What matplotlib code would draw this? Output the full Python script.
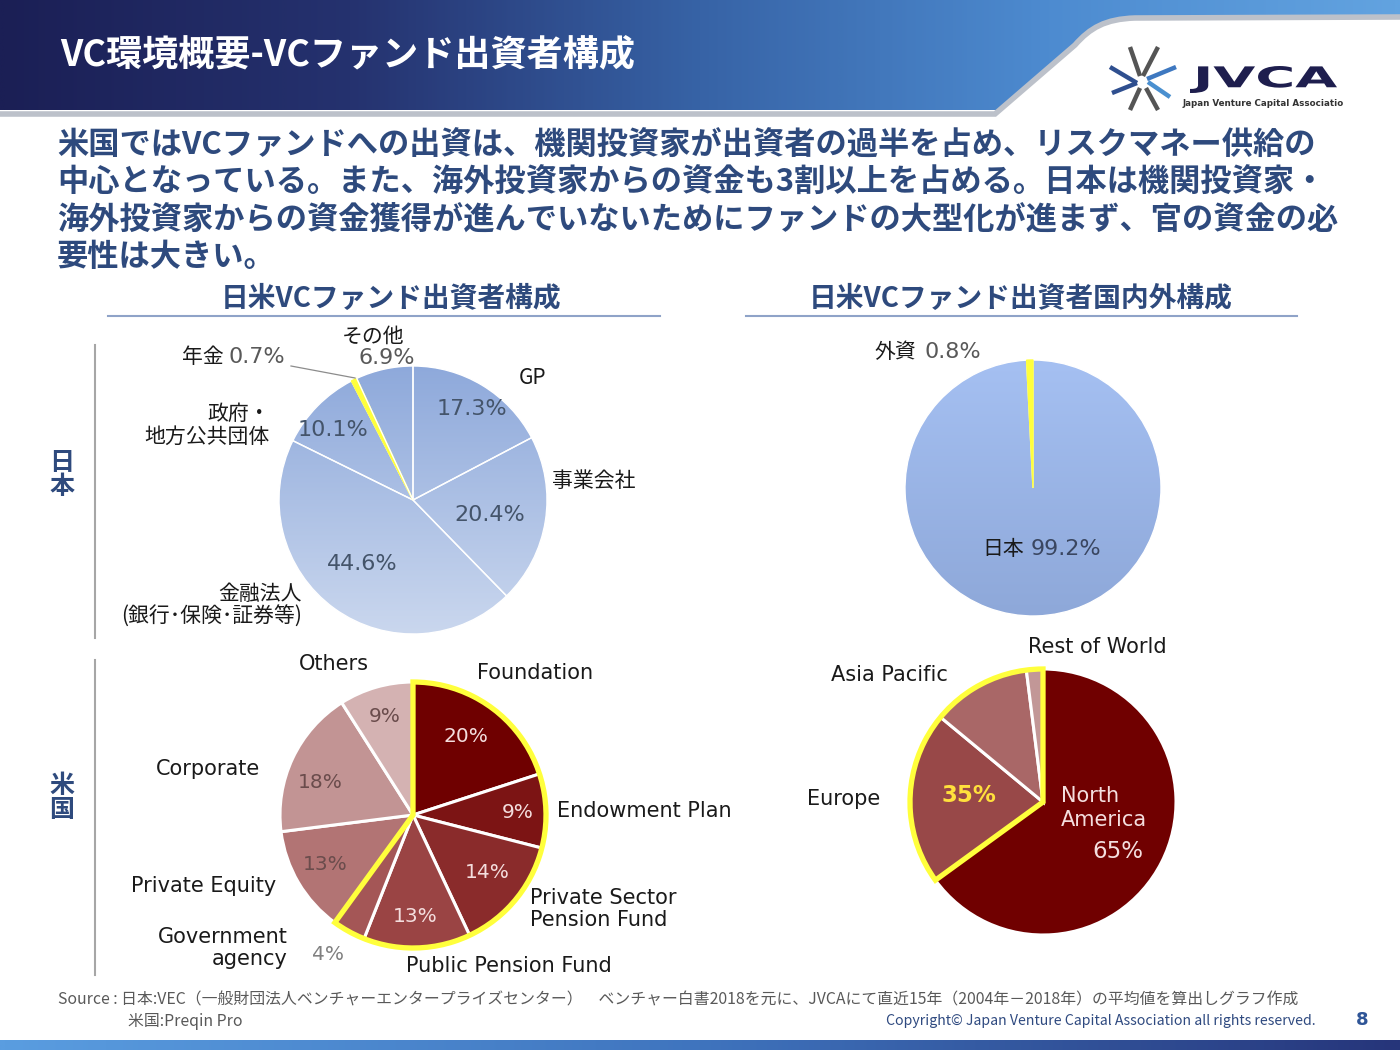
import numpy as np
import matplotlib
matplotlib.use('Agg')
import matplotlib.pyplot as plt
import matplotlib.colors as mcolors
from matplotlib.patches import Circle, Wedge, PathPatch
from matplotlib.path import Path
from matplotlib.textpath import TextPath
from matplotlib.font_manager import FontProperties
from matplotlib.transforms import Affine2D

JP = ['Noto Sans CJK JP', 'DejaVu Sans']
plt.rcParams['font.family'] = JP

W, H = 1400, 1050

### data ###
title = 'VC環境概要-VCファンド出資者構成'
body = ['米国ではVCファンドへの出資は、機関投資家が出資者の過半を占め、リスクマネー供給の',
        '中心となっている。また、海外投資家からの資金も3割以上を占める。日本は機関投資家・',
        '海外投資家からの資金獲得が進んでいないためにファンドの大型化が進まず、官の資金の必',
        '要性は大きい。']
head_left = '日米VCファンド出資者構成'
head_right = '日米VCファンド出資者国内外構成'

jp_names = ['GP', '事業会社', '金融法人\n(銀行･保険･証券等)', '政府・\n地方公共団体', '年金', 'その他']
jp_vals = [17.3, 20.4, 44.6, 10.1, 0.7, 6.9]

jpio_names = ['日本', '外資']
jpio_vals = [99.2, 0.8]

us_names = ['Foundation', 'Endowment Plan', 'Private Sector\nPension Fund', 'Public Pension Fund',
            'Government\nagency', 'Private Equity', 'Corporate', 'Others']
us_vals = [20, 9, 14, 13, 4, 13, 18, 9]
us_inst = 5   # first 5 = institutional investors (yellow outline)

usio_names = ['North\nAmerica', 'Europe', 'Asia Pacific', 'Rest of World']
usio_vals = [65, 21, 12, 2]

source1 = 'Source : 日本:VEC（一般財団法人ベンチャーエンタープライズセンター）　ベンチャー白書2018を元に、JVCAにて直近15年（2004年－2018年）の平均値を算出しグラフ作成'
source2 = '米国:Preqin Pro'
copyright_txt = 'Copyright© Japan Venture Capital Association all rights reserved.'
page = '8'

### styles ###
navy = '#2E4A7D'
yellow = '#FFFF3C'
jp_pct_col = '#44546A'
us_cols = ['#6F0000', '#7C1414', '#8A2B2B', '#9A4444', '#A45656', '#B27474', '#C29494', '#D4B2B2']
usio_cols = ['#700000', '#984848', '#A96767', '#C29797']
us_pct_cols = ['#F4DEDE'] * 5 + ['#6A4C4C', '#6A4C4C', '#6A4C4C']
us_pct_cols[4] = '#808080'

def Y(py):
    return H - py

fig = plt.figure(figsize=(14, 10.5), dpi=100)
ax = fig.add_axes([0, 0, 1, 1])

def hgrad(stops, n=400):
    pos = np.linspace(0, 1, n)
    cols = mcolors.LinearSegmentedColormap.from_list('g', stops)(pos)[:, :3]
    return cols[None, :, :]

def vgrad(top, bottom, n=256):
    t = np.linspace(0, 1, n)[:, None]
    c0 = np.array(mcolors.to_rgb(top)); c1 = np.array(mcolors.to_rgb(bottom))
    return (c0 * (1 - t) + c1 * t)[:, None, :]

### (1) header band ###
ax.imshow(hgrad(['#1B1F55', '#25326F', '#3763A6', '#4D8BD0', '#62A3E0']),
          extent=(0, W, Y(110), Y(0)), aspect='auto', zorder=0, interpolation='bilinear')
verts = [(995, 113), (1075, 45), (1090, 28), (1105, 19), (1135, 18), (1400, 17), (1400, 113), (995, 113)]
codes = [Path.MOVETO, Path.LINETO, Path.CURVE4, Path.CURVE4, Path.CURVE4, Path.LINETO, Path.LINETO, Path.CLOSEPOLY]
wp = Path([(x, Y(y)) for x, y in verts], codes)
ax.add_patch(PathPatch(wp, fc='white', ec='none', zorder=1))
sh = Path([(x, Y(y)) for x, y in [(0, 114), (995, 114), (1075, 45), (1090, 28), (1105, 19), (1135, 18), (1400, 17)]],
          [Path.MOVETO, Path.LINETO, Path.LINETO, Path.CURVE4, Path.CURVE4, Path.CURVE4, Path.LINETO])
ax.add_patch(PathPatch(sh, fc='none', ec='#BCC1CA', lw=4, zorder=1))
ax.text(60, Y(55), title, color='white', fontsize=26, fontweight='bold', va='center', ha='left', zorder=3)

# logo
logo_lines = [((1130, 47), (1140, 76), '#555555'), ((1158, 47), (1143, 76), '#555555'),
              ((1110, 67), (1137, 83), '#2F4F8F'), ((1112, 93), (1137, 83), '#2F4F8F'),
              ((1176, 67), (1147, 79), '#3E78C0'), ((1148, 82), (1170, 97), '#4A90D0'),
              ((1140, 88), (1130, 110), '#555555'), ((1146, 88), (1158, 110), '#555555')]
for p0, p1, c in logo_lines:
    ax.plot([p0[0], p1[0]], [Y(p0[1]), Y(p1[1])], color=c, lw=3.2, solid_capstyle='butt', zorder=3)
tp = TextPath((0, 0), 'JVCA', size=30, prop=FontProperties(family='DejaVu Sans', weight='bold'))
bb = tp.get_extents()
tr = Affine2D().translate(-bb.x0, -bb.y0).scale(147 / bb.width, 27 / bb.height).translate(1190, Y(93))
ax.add_patch(PathPatch(tr.transform_path(tp), fc='#1E1E4E', ec='none', zorder=3))
ax.text(1263, Y(104), 'Japan Venture Capital Associatio', fontsize=6.3, fontweight='bold',
        color='#333333', ha='center', va='center', family='DejaVu Sans', zorder=3)

### (2) body text ###
for i, line in enumerate(body):
    ax.text(57, Y(146 + 37 * i), line, color=navy, fontsize=22.5, fontweight='bold', va='center', ha='left')

# section headers
ax.text(391, Y(299), head_left, color=navy, fontsize=20, fontweight='bold', ha='center', va='center')
ax.plot([108, 660], [Y(316), Y(316)], color='#8FA3C8', lw=1.5)
ax.text(1021, Y(299), head_right, color=navy, fontsize=20, fontweight='bold', ha='center', va='center')
ax.plot([746, 1297], [Y(316), Y(316)], color='#8FA3C8', lw=1.5)

# row labels
ax.text(62, Y(475), '日\n本', color=navy, fontsize=18, fontweight='bold', ha='center', va='center', linespacing=1.0)
ax.text(62, Y(798), '米\n国', color=navy, fontsize=18, fontweight='bold', ha='center', va='center', linespacing=1.0)
ax.plot([95, 95], [Y(345), Y(638)], color='#A6A6A6', lw=1.5)
ax.plot([95, 95], [Y(660), Y(975)], color='#A6A6A6', lw=1.5)

### (3) pies ###
def blue_pie(vals, cx, cy, r, top, bottom, hi):
    clip = Circle((cx, Y(cy)), r, transform=ax.transData)
    im = ax.imshow(vgrad(top, bottom), extent=(cx - r, cx + r, Y(cy) - r, Y(cy) + r),
                   aspect='auto', zorder=1, interpolation='bilinear')
    im.set_clip_path(clip)
    cols = ['none'] * len(vals)
    cols[hi] = yellow
    wedges, _ = ax.pie(vals, colors=cols, startangle=90, counterclock=False, center=(cx, Y(cy)), radius=r,
                       wedgeprops=dict(edgecolor='white', linewidth=1.0))
    for w in wedges:
        w.set_zorder(2)
    wedges[hi].set_edgecolor(yellow)

blue_pie(jp_vals, 413, 500, 134, '#8EA9DB', '#CAD7EE', 4)
blue_pie(jpio_vals, 1033, 488, 128, '#A5C0F2', '#8EA8D9', 1)

def red_pie(vals, cols, cx, cy, r, theta1, theta2):
    wedges, _ = ax.pie(vals, colors=cols, startangle=90, counterclock=False, center=(cx, Y(cy)), radius=r,
                       wedgeprops=dict(edgecolor='white', linewidth=2.2))
    for w in wedges:
        w.set_zorder(2)
    ax.add_patch(Wedge((cx, Y(cy)), r, theta1, theta2, fill=False, ec=yellow, lw=3.8, joinstyle='miter', zorder=3))

us_frac = sum(us_vals[:us_inst]) / sum(us_vals)
red_pie(us_vals, us_cols, 413, 815, 133, 90 - 360 * us_frac, 90)
usio_frac = usio_vals[0] / sum(usio_vals)
red_pie(usio_vals, usio_cols, 1043, 802, 133, 90, 90 - 360 * usio_frac + 360)

### (4) labels ###
lab = dict(color='#1A1A1A', fontsize=15)
pcts = dict(family='DejaVu Sans')

# Japan
jp_name_pos = [(533, 378, 'center'), (594, 481, 'center'), (302, 605, 'right'), (270, 425, 'right'),
               (224, 357, 'right'), (373, 337, 'center')]
jp_pct_pos = [(472, 409, 'center'), (490, 515, 'center'), (362, 564, 'center'), (333, 430, 'center'),
              (229, 357, 'left'), (387, 358, 'center')]
for nm, (x, y, ha) in zip(jp_names, jp_name_pos):
    ax.text(x, Y(y), nm, ha=ha, va='center', multialignment=ha if ha != 'center' else 'center',
            linespacing=1.05, zorder=4, **lab)
for i, (v, (x, y, ha)) in enumerate(zip(jp_vals, jp_pct_pos)):
    c = '#595959' if i >= 4 else jp_pct_col
    ax.text(x, Y(y), f'{v}%', ha=ha, va='center', color=c, fontsize=16, zorder=4, **pcts)
ax.plot([291, 355], [Y(366), Y(378)], color='#8C8C8C', lw=0.9, zorder=4)

# Japan domestic / foreign
jpio_name_pos = [(1024, 549, 'right'), (916, 352, 'right')]
jpio_pct_pos = [(1031, 549, 'left'), (925, 352, 'left')]
for nm, (x, y, ha) in zip(jpio_names, jpio_name_pos):
    ax.text(x, Y(y), nm, ha=ha, va='center', zorder=4, **lab)
for i, (v, (x, y, ha)) in enumerate(zip(jpio_vals, jpio_pct_pos)):
    c = '#3A4660' if i == 0 else '#595959'
    ax.text(x, Y(y), f'{v}%', ha=ha, va='center', color=c, fontsize=16, zorder=4, **pcts)

# US
us_name_pos = [(535, 673, 'center'), (557, 811, 'left'), (530, 909, 'left'), (509, 966, 'center'),
               (288, 948, 'right'), (204, 886, 'center'), (208, 769, 'center'), (334, 664, 'center')]
us_pct_pos = [(466, 737), (518, 812), (487, 872), (415, 916), (328, 955), (325, 864), (320, 783), (385, 717)]
for nm, (x, y, ha) in zip(us_names, us_name_pos):
    ax.text(x, Y(y), nm, ha=ha, va='center', multialignment=ha if ha != 'center' else 'center',
            linespacing=1.15, zorder=4, family='DejaVu Sans', **lab)
for v, (x, y), c in zip(us_vals, us_pct_pos, us_pct_cols):
    ax.text(x, Y(y), f'{v}%', ha='center', va='center', color=c, fontsize=14.5, zorder=4, **pcts)

# US domestic / foreign
usio_name_pos = [(1061, 808, 'left'), (844, 799, 'center'), (889, 675, 'center'), (1097, 647, 'center')]
for nm, (x, y, ha) in zip(usio_names, usio_name_pos):
    c = '#F4DEDE' if nm.startswith('North') else '#1A1A1A'
    ax.text(x, Y(y), nm, ha=ha, va='center', multialignment='left', linespacing=1.2,
            zorder=4, family='DejaVu Sans', color=c, fontsize=15)
ax.text(1143, Y(851), f'{usio_vals[0]}%', ha='right', va='center', color='#F4DEDE', fontsize=16.5, zorder=4, **pcts)
ax.text(969, Y(795), f'{sum(usio_vals[1:])}%', ha='center', va='center', color='#FFE03C', fontsize=16.5,
        fontweight='bold', zorder=4, **pcts)

### (5) footer ###
ax.text(58, Y(1000), source1, fontsize=11.4, color='#595959', ha='left', va='center')
ax.text(128, Y(1022), source2, fontsize=11.4, color='#595959', ha='left', va='center')
ax.text(1316, Y(1021), copyright_txt, fontsize=10.2, color='#2F4A80', ha='right', va='center')
ax.text(1362, Y(1020), page, fontsize=13, color='#2F5597', fontweight='bold', ha='center', va='center',
        family='DejaVu Sans')
ax.imshow(hgrad(['#5A9DE0', '#3F74BE', '#26357A']), extent=(0, W, Y(1050), Y(1040)),
          aspect='auto', zorder=0, interpolation='bilinear')

ax.set_xlim(0, W)
ax.set_ylim(0, H)
ax.set_aspect('auto')
ax.axis('off')
fig.savefig('out.png', dpi=100)
